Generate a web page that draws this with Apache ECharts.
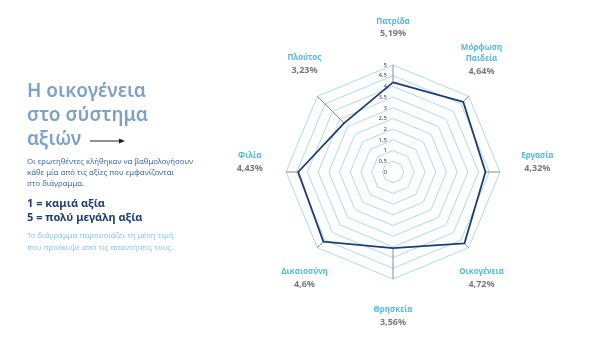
<!DOCTYPE html>
<html><head><meta charset="utf-8">
<script src="https://cdn.jsdelivr.net/npm/echarts@6/dist/echarts.min.js"></script>
<style>html,body{margin:0;padding:0;background:#fff}#c{width:603px;height:337px}</style>
</head><body><div id="c"></div>
<script>
// Axes in clockwise order starting at the top
const categories = ['Πατρίδα', 'Μόρφωση\nΠαιδεία', 'Εργασία', 'Οικογένεια', 'Θρησκεία', 'Δικαιοσύνη', 'Φιλία', 'Πλούτος'];
const valueLabels = ['5,19%', '4,64%', '4,32%', '4,72%', '3,56%', '4,6%', '4,43%', '3,23%'];
const plotted = [4.19, 4.64, 4.32, 4.72, 3.56, 4.6, 4.43, 3.23];
const tickLabels = ['0', '0,5', '1', '1,5', '2', '2,5', '3', '3,5', '4', '4,5', '5'];

const CENTER = [393, 172];
const R = 107;           // radius for value 5
const MAXV = 5;
const SPOKE = 5.85;      // spoke end in value units

const labelPlace = [
  { position: 'top', distance: 6 },
  { position: 'top', distance: 5 },
  { position: 'right', distance: 3, offset: [0, -9] },
  { position: 'bottom', distance: 6 },
  { position: 'bottom', distance: 7 },
  { position: 'bottom', distance: 6 },
  { position: 'left', distance: 5, offset: [0, -9] },
  { position: 'top', distance: 6 }
];

const n = categories.length;
// radar draws counter-clockwise: reorder
const ccw = [...Array(n).keys()].map(k => (n - k) % n);

const chart = echarts.init(document.getElementById('c'), null, { renderer: 'canvas' });
const FONT = '"Noto Sans", "DejaVu Sans", sans-serif';

const series = [];
series.push({
  type: 'radar', radarIndex: 0, symbol: 'none', silent: true, z: 5,
  lineStyle: { color: '#1e3d74', width: 1.8 },
  data: [{ value: ccw.map(i => plotted[i]) }]
});
for (let i = 0; i < n; i++) {
  series.push({
    type: 'line', coordinateSystem: 'polar', polarIndex: 0, symbol: 'none', silent: true, clip: false, z: 4,
    lineStyle: { color: '#8d8d8d', width: 1 },
    data: [[plotted[i], i], [SPOKE, i]]
  });
}
series.push({
  type: 'scatter', coordinateSystem: 'polar', symbolSize: 0, silent: true, clip: false,
  data: categories.map((c, i) => ({
    value: [SPOKE, i],
    label: Object.assign({
      show: true,
      formatter: '{n|' + c.split('\n').join('}\n{n|') + '}\n{v|' + valueLabels[i] + '}',
      align: labelPlace[i].position === 'right' ? 'left' : (labelPlace[i].position === 'left' ? 'right' : 'center'),
      rich: {
        n: { fontSize: 8, fontWeight: 'bold', color: '#2aa7d8', lineHeight: 11, fontFamily: FONT, align: 'center' },
        v: { fontSize: 9, fontWeight: 'bold', color: '#585858', lineHeight: 14, fontFamily: FONT, align: 'center' }
      }
    }, labelPlace[i])
  }))
});

chart.setOption({
  backgroundColor: '#fff',
  animation: false,
  radar: [{
    center: CENTER, radius: R, startAngle: 90, splitNumber: 10, shape: 'polygon',
    indicator: ccw.map(i => ({ name: categories[i], min: 0, max: MAXV })),
    axisName: { show: false },
    axisLine: { show: false },
    axisTick: { show: false },
    axisLabel: { show: false },
    splitArea: { show: false },
    splitLine: { lineStyle: { color: '#a3d7ec', width: 0.9 } }
  }],
  polar: [{ center: CENTER, radius: R }],
  angleAxis: [{
    type: 'value', min: 0, max: n, startAngle: 90, clockwise: true,
    axisLine: { show: false }, axisTick: { show: false }, axisLabel: { show: false }, splitLine: { show: false }
  }],
  radiusAxis: [{
    type: 'value', min: 0, max: MAXV, interval: 0.5,
    axisLine: { show: false }, axisTick: { show: false }, splitLine: { show: false },
    axisLabel: {
      show: true, fontSize: 6, color: '#444', fontFamily: FONT, margin: 6,
      formatter: v => tickLabels[Math.round(v * 2)] ?? ''
    }
  }],
  graphic: [
    { type: 'text', left: 27, top: 80, style: { text: 'Η οικογένεια\nστο σύστημα\nαξιών', fontSize: 19, fontWeight: 600, lineHeight: 24, fill: '#7ea2c6', fontFamily: FONT } },
    { type: 'line', shape: { x1: 90, y1: 141, x2: 121, y2: 141 }, style: { stroke: '#222', lineWidth: 1 } },
    { type: 'polygon', shape: { points: [[125, 141], [119, 138.5], [119, 143.5]] }, style: { fill: '#222' } },
    { type: 'text', left: 27, top: 156.5, style: { text: 'Οι ερωτηθέντες κλήθηκαν να βαθμολογήσουν\nκάθε μία από τις αξίες που εμφανίζονται\nστο διάγραμμα.', fontSize: 7.8, lineHeight: 11, fill: '#3d6ea6', fontFamily: FONT } },
    { type: 'text', left: 27, top: 197, style: { text: '1 = καμιά αξία\n5 = πολύ μεγάλη αξία', fontSize: 11, fontWeight: 'bold', lineHeight: 14, fill: '#1f3f77', fontFamily: FONT } },
    { type: 'text', left: 27, top: 230, style: { text: 'Το διάγραμμα παρουσιάζει τη μέση τιμή\nπου προέκυψε από τις απαντήσεις τους.', fontSize: 7.8, lineHeight: 12, fill: '#88c6e6', fontFamily: FONT } }
  ],
  series
});
</script></body></html>
